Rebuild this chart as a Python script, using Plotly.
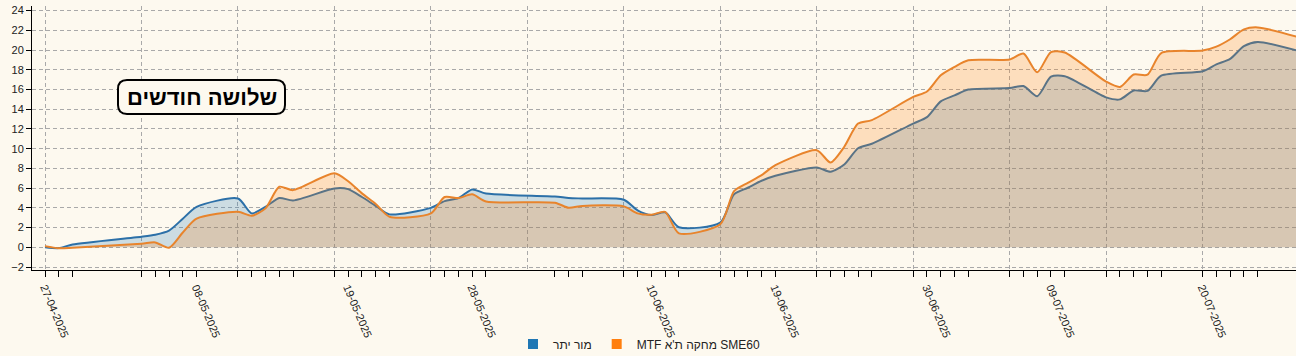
import plotly.graph_objects as go
import pandas as pd

# ---------------- data ----------------
dates = [
    "2025-04-27", "2025-04-28", "2025-04-29",
    "2025-05-04", "2025-05-05", "2025-05-06", "2025-05-07", "2025-05-08",
    "2025-05-11", "2025-05-12", "2025-05-13", "2025-05-14", "2025-05-15",
    "2025-05-18", "2025-05-19", "2025-05-20", "2025-05-21", "2025-05-22",
    "2025-05-25", "2025-05-26", "2025-05-27", "2025-05-28", "2025-05-29",
    "2025-06-03", "2025-06-04", "2025-06-05",
    "2025-06-08", "2025-06-09", "2025-06-10", "2025-06-11", "2025-06-12",
    "2025-06-15", "2025-06-16", "2025-06-17", "2025-06-18", "2025-06-19",
    "2025-06-22", "2025-06-23", "2025-06-24", "2025-06-25", "2025-06-26",
    "2025-06-29", "2025-06-30", "2025-07-01", "2025-07-02", "2025-07-03",
    "2025-07-06", "2025-07-07", "2025-07-08", "2025-07-09", "2025-07-10",
    "2025-07-13", "2025-07-14", "2025-07-15", "2025-07-16", "2025-07-17",
    "2025-07-20", "2025-07-21", "2025-07-22", "2025-07-23", "2025-07-24",
    "2025-07-27",
]

mor_yeter = [
    0.0, -0.08, 0.28,
    1.07, 1.28, 1.7, 2.9, 4.1,
    4.95, 3.44, 4.1, 5.0, 4.75,
    5.97, 5.9, 5.1, 4.2, 3.34,
    4.0, 4.69, 5.0, 5.87, 5.45,
    5.15, 5.0, 4.95,
    4.82, 3.75, 3.27, 3.55, 2.03,
    2.5, 5.37, 6.04, 6.75, 7.25,
    8.1, 7.66, 8.4, 10.05, 10.5,
    12.55, 13.2, 14.8, 15.4, 16.0,
    16.15, 16.35, 15.32, 17.3, 17.35,
    15.2, 15.0, 15.9, 15.86, 17.4,
    17.85, 18.55, 19.1, 20.4, 20.82,
    19.9,
]

mtf_sme60 = [
    0.12, -0.1, -0.05,
    0.37, 0.5, -0.05, 1.5, 2.9,
    3.6, 3.2, 3.95, 6.14, 5.8,
    7.5, 6.7, 5.47, 4.4, 3.1,
    3.44, 5.1, 5.0, 5.37, 4.65,
    4.52, 4.01, 4.2,
    4.15, 3.44, 3.3, 3.6, 1.42,
    2.33, 5.7, 6.54, 7.32, 8.33,
    9.85, 8.6, 10.2, 12.55, 12.9,
    15.25, 15.8, 17.45, 18.3, 18.97,
    19.04, 19.65, 17.75, 19.8, 19.75,
    16.8, 16.26, 17.52, 17.5, 19.7,
    19.95, 20.35, 21.1, 22.1, 22.3,
    21.3,
]

series_names = ["מור יתר", "MTF מחקה ת'א SME60"]
label_dates = ["27-04-2025", "08-05-2025", "19-05-2025", "28-05-2025", "10-06-2025",
               "19-06-2025", "30-06-2025", "09-07-2025", "20-07-2025"]
y_ticks = [-2, 0, 2, 4, 6, 8, 10, 12, 14, 16, 18, 20, 22, 24]
title_text = "שלושה חודשים"

# ---------------- styles ----------------
BG = "#fdf9ef"
BLUE_LINE = "#2c70a8"
ORANGE_LINE = "#e8842c"
BLUE_FILL = "rgba(31,119,180,0.22)"
ORANGE_FILL = "rgba(255,127,14,0.22)"
GRID = "#a9a9a9"
FONT = "Arial, 'Liberation Sans', 'DejaVu Sans', sans-serif"

W, H = 1296, 356
ML, MR, MT, MB = 32, 0, 6, 86

dts = pd.to_datetime(dates)
ticktext = [d.strftime("%d-%m-%Y") if d.strftime("%d-%m-%Y") in label_dates else "" for d in dts]

fig = go.Figure()
fig.add_trace(go.Scatter(
    x=dts, y=mor_yeter, mode="lines", name=series_names[0],
    line=dict(color=BLUE_LINE, width=2, shape="spline", smoothing=0.7),
    fill="tozeroy", fillcolor=BLUE_FILL, showlegend=False, hoverinfo="skip"))
fig.add_trace(go.Scatter(
    x=dts, y=mtf_sme60, mode="lines", name=series_names[1],
    line=dict(color=ORANGE_LINE, width=2, shape="spline", smoothing=0.7),
    fill="tozeroy", fillcolor=ORANGE_FILL, showlegend=False, hoverinfo="skip"))

# legend entries (square swatches)
for name, col in zip(series_names, ["#1f77b4", "#ff7f0e"]):
    fig.add_trace(go.Scatter(x=[None], y=[None], mode="markers", name=name,
                             marker=dict(symbol="square", size=10, color=col)))

# plot-area geometry helpers (pixel -> paper)
PW = W - ML - MR
PH = H - MT - MB


def px2paper(px, py):
    return (px - ML) / PW, (H - MB - py) / PH


def rounded_rect(x0, y0, x1, y1, r):
    def P(px, py):
        a, b = px2paper(px, py)
        return f"{a:.5f},{b:.5f}"
    pts = [
        f"M {P(x0 + r, y0)}",
        f"L {P(x1 - r, y0)}",
        f"Q {P(x1, y0)} {P(x1, y0 + r)}",
        f"L {P(x1, y1 - r)}",
        f"Q {P(x1, y1)} {P(x1 - r, y1)}",
        f"L {P(x0 + r, y1)}",
        f"Q {P(x0, y1)} {P(x0, y1 - r)}",
        f"L {P(x0, y0 + r)}",
        f"Q {P(x0, y0)} {P(x0 + r, y0)} Z",
    ]
    return " ".join(pts)


bx0, by0, bx1, by1 = 118, 80, 285, 114
fig.add_shape(type="path", xref="paper", yref="paper",
              path=rounded_rect(bx0, by0, bx1, by1, 9),
              line=dict(color="#000", width=2), fillcolor=BG, layer="above")
cx, cy = px2paper((bx0 + bx1) / 2, (by0 + by1) / 2)
fig.add_annotation(x=cx, y=cy, xref="paper", yref="paper", text=f"<b>{title_text}</b>",
                   showarrow=False, xanchor="center", yanchor="middle",
                   font=dict(family=FONT, size=22, color="#000"))

x_start = pd.Timestamp("2025-04-26 01:22")
x_end = pd.Timestamp("2025-07-26 18:43")

fig.update_layout(
    width=W, height=H, autosize=False,
    margin=dict(l=ML, r=MR, t=MT, b=MB, pad=0, autoexpand=False),
    paper_bgcolor=BG, plot_bgcolor=BG,
    font=dict(family=FONT, color="#222", size=11),
    showlegend=True,
    legend=dict(orientation="h", x=(639 - ML) / PW, xanchor="center",
                y=(H - MB - 344) / PH, yanchor="middle",
                font=dict(family=FONT, size=12, color="#222"),
                bgcolor="rgba(0,0,0,0)", itemwidth=30),
    xaxis=dict(
        type="date", range=[x_start, x_end], automargin=False,
        tickmode="array", tickvals=dts, ticktext=ticktext,
        ticks="outside", ticklen=6, tickwidth=1, tickcolor="#000",
        showline=True, linecolor="#000", linewidth=1,
        showgrid=False, zeroline=False, tickangle=67,
        tickfont=dict(family=FONT, size=11, color="#222"),
        minor=dict(tickmode="linear", tick0="2025-04-27", dtick=7 * 86400000,
                   showgrid=True, gridcolor=GRID, griddash="4px,3px", gridwidth=1,
                   ticks=""),
    ),
    yaxis=dict(
        range=[-2.3, 24.47], tickmode="array", tickvals=y_ticks, automargin=False,
        ticks="outside", ticklen=5, tickwidth=1, tickcolor="#000",
        showline=True, linecolor="#000", linewidth=1,
        showgrid=True, gridcolor=GRID, griddash="4px,3px", gridwidth=1,
        zeroline=False, tickfont=dict(family=FONT, size=11, color="#222"),
    ),
)

fig.write_html(
    "out.html",
    config={"displayModeBar": False},
    post_script=(
        "document.documentElement.style.margin='0';"
        "document.body.style.margin='0';"
        "document.body.style.padding='0';"
        "document.body.style.overflow='hidden';"
        "document.body.style.background='" + BG + "';"
    ),
)
